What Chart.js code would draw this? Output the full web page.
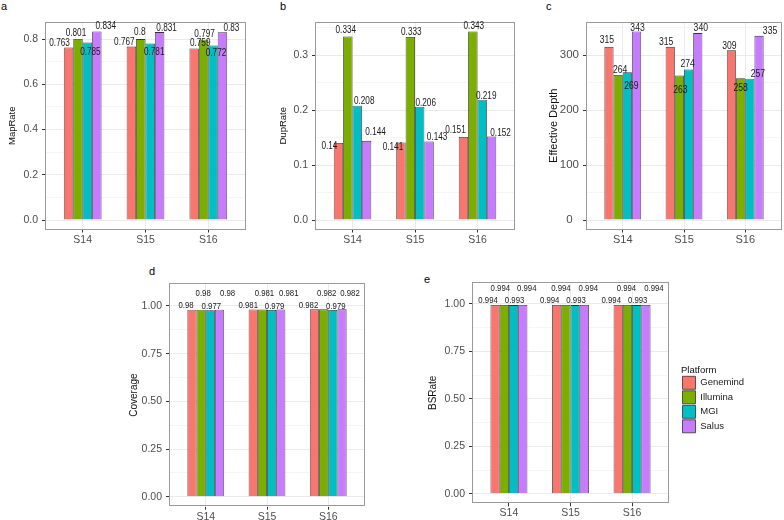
<!DOCTYPE html>
<html>
<head>
<meta charset="utf-8">
<script src="https://cdn.jsdelivr.net/npm/chart.js@4.4.0/dist/chart.umd.min.js"></script>
<style>
  body { margin: 0; background: #fff; width: 784px; height: 520px; position: relative; overflow: hidden; }
  canvas { position: absolute; }
  .tag { position: absolute; font: 11px 'Liberation Sans', Arial, sans-serif; color: #000; line-height: 1; }
</style>
</head>
<body>
<div class="tag" style="left:1px;top:1px">a</div>
<div class="tag" style="left:280px;top:1px">b</div>
<div class="tag" style="left:546px;top:1px">c</div>
<div class="tag" style="left:149px;top:266px">d</div>
<div class="tag" style="left:424px;top:274px">e</div>

<canvas id="panelA" width="243" height="250" style="left:7px;top:0px"></canvas>
<canvas id="panelB" width="240" height="250" style="left:278px;top:0px"></canvas>
<canvas id="panelC" width="237" height="250" style="left:547px;top:0px"></canvas>
<canvas id="panelD" width="242" height="265" style="left:128px;top:255px"></canvas>
<canvas id="panelE" width="357" height="265" style="left:427px;top:255px"></canvas>

<script>
// ------------------------------
// Data
// ------------------------------
const samples = ["S14", "S15", "S16"];
const platforms = ["Genemind", "Illumina", "MGI", "Salus"];
const platformColors = ["#F8766D", "#7CAE00", "#00BFC4", "#C77CFF"];

// rows = platform, columns = sample
const mapRate = [
  [0.763, 0.767, 0.759],
  [0.801, 0.8, 0.797],
  [0.785, 0.781, 0.772],
  [0.834, 0.831, 0.83]
];
const dupRate = [
  [0.14, 0.141, 0.151],
  [0.334, 0.333, 0.343],
  [0.208, 0.206, 0.219],
  [0.144, 0.143, 0.152]
];
const effDepth = [
  [315, 315, 309],
  [264, 263, 258],
  [269, 274, 257],
  [343, 340, 335]
];
const coverage = [
  [0.98, 0.981, 0.982],
  [0.98, 0.981, 0.982],
  [0.977, 0.979, 0.979],
  [0.98, 0.981, 0.982]
];
const bsRate = [
  [0.994, 0.994, 0.994],
  [0.994, 0.994, 0.994],
  [0.993, 0.993, 0.993],
  [0.994, 0.994, 0.994]
];

// y tick labels
const mapTicks = [0, 0.2, 0.4, 0.6, 0.8];
const dupTicks = [0, 0.1, 0.2, 0.3];
const depthTicks = [0, 100, 200, 300];
const fracTicks = [0, 0.25, 0.5, 0.75, 1];

// ------------------------------
// Label nudges (dx, dy in px from bar top centre), repel-like placement
// ------------------------------
const nudgeA = [
  [[-9, -4], [-7, -4], [6, -5]],
  [[-2, -6], [-1, -7], [1, -6]],
  [[3, 10], [4, 9], [3, 8]],
  [[9, -5], [7, -4], [9, -4]]
];
const nudgeB = [
  [[-9, 3], [-8, 5], [-8, -7]],
  [[-2, -6], [1, -5], [1, -5]],
  [[7, -4], [6, -4], [4, -3]],
  [[9, -9], [8, -4], [9, -3]]
];
const nudgeC = [
  [[-2, -7], [-4, -5], [-2, -4]],
  [[2, -5], [1, 15], [0, 10]],
  [[4, 14], [-1, -5], [8, -5]],
  [[1, -3], [3, -5], [11, -5]]
];
const nudgeD = [
  [[-6, -4], [-5, -4], [-6, -4]],
  [[2, -16], [2, -16], [3, -16]],
  [[1, -4], [3, -4], [3, -4]],
  [[8, -16], [8, -16], [8, -16]]
];
const nudgeE = [
  [[-7, -4.5], [-7, -4.5], [-7, -4.5]],
  [[-4, -16.5], [-5, -16.5], [-1, -16.5]],
  [[1, -4.5], [1, -4.5], [1, -4.5]],
  [[4, -16.5], [4, -16.5], [8, -16.5]]
];

const FONT = "'Liberation Sans', Arial, sans-serif";
Chart.defaults.font.family = FONT;
Chart.defaults.animation = false;

// ------------------------------
// Plugins
// ------------------------------
const panelFrame = {
  id: "panelFrame",
  beforeDatasetsDraw(chart) {
    const { ctx, chartArea: a } = chart;
    ctx.save();
    ctx.strokeStyle = "#9a9a9a";
    ctx.lineWidth = 1;
    ctx.strokeRect(Math.round(a.left) + 0.5, Math.round(a.top) + 0.5,
      Math.round(a.right - a.left) - 1, Math.round(a.bottom - a.top) - 1);
    ctx.restore();
  }
};

// value labels, squeezed horizontally to look like the narrow face of the original
const barValues = {
  id: "barValues",
  afterDatasetsDraw(chart, args, opts) {
    const ctx = chart.ctx;
    const sx = 0.82;
    ctx.save();
    ctx.font = `${opts.size}px ${FONT}`;
    ctx.fillStyle = "#1a1a1a";
    ctx.textAlign = "center";
    ctx.textBaseline = "middle";
    ctx.scale(sx, 1);
    chart.data.datasets.forEach((ds, i) => {
      chart.getDatasetMeta(i).data.forEach((bar, j) => {
        const [dx, dy] = opts.nudge[i][j];
        ctx.fillText(String(ds.data[j].y), (bar.x + dx) / sx, bar.y + dy);
      });
    });
    ctx.restore();
  }
};

// ------------------------------
// Panel builder
// ------------------------------
function makePanel(id, p) {
  const datasets = platforms.map((name, i) => ({
    label: name,
    data: samples.map((s, j) => ({ x: j + 1, y: p.values[i][j] })),
    backgroundColor: platformColors[i],
    borderColor: "#333333",
    borderWidth: 0.8,
    categoryPercentage: 0.6,
    barPercentage: 1.0
  }));

  const scales = {
    x: {
      type: "linear",
      min: 0.4,
      max: 3.6,
      offset: false,
      afterBuildTicks: s => { s.ticks = samples.map((c, j) => ({ value: j + 1 })); },
      afterFit: s => { s.height = p.xHeight; },
      grid: { offset: false, color: "#ebebeb", lineWidth: 1, tickLength: 3, tickColor: "#333333" },
      border: { display: false },
      ticks: {
        autoSkip: false, maxRotation: 0, padding: 1, color: "#4d4d4d",
        font: { size: p.xFont },
        callback: v => samples[Math.round(v) - 1]
      }
    },
    y: {
      type: "linear",
      min: p.yMin,
      max: p.yMax,
      afterBuildTicks: s => {
        const step = p.ticks[1] - p.ticks[0];
        const all = [];
        p.ticks.forEach(v => {
          all.push({ value: v, minor: false });
          if (v + step / 2 <= p.yMax) all.push({ value: v + step / 2, minor: true });
        });
        s.ticks = all;
      },
      afterFit: s => { s.width = p.yWidth; },
      grid: {
        color: c => (c.tick && c.tick.minor ? "#f5f5f5" : "#ebebeb"),
        tickColor: c => (c.tick && c.tick.minor ? "rgba(0,0,0,0)" : "#333333"),
        tickLength: 3
      },
      border: { display: false },
      title: { display: true, text: p.title, color: "#111", padding: 0, font: { size: p.titleFont } },
      ticks: {
        autoSkip: false, padding: 4, color: "#4d4d4d", crossAlign: p.crossAlign || "near",
        font: { size: p.tickFont },
        callback: (v, i, t) => (t[i].minor ? "" : p.fmt(v))
      }
    }
  };

  if (p.legend) {
    // spacer between the panel and the legend
    scales.gap = {
      type: "linear", position: "right", display: true,
      grid: { display: false }, border: { display: false },
      ticks: { display: false },
      afterFit: s => { s.width = 12; }
    };
  }

  return new Chart(document.getElementById(id), {
    type: "bar",
    data: { datasets },
    options: {
      responsive: false,
      devicePixelRatio: 1,
      layout: { padding: { left: 0, top: p.padTop, right: p.padRight, bottom: 0 } },
      scales,
      plugins: {
        tooltip: { enabled: false },
        legend: p.legend ? {
          display: true,
          position: "right",
          align: "center",
          maxWidth: 130,
          title: {
            display: true, text: "Platform", position: "start", color: "#111",
            padding: { top: -2.75, bottom: -1.85 }, font: { size: 9.5 }
          },
          labels: { boxWidth: 13, boxHeight: 13, padding: 1.5, color: "#1a1a1a", font: { size: 9.5 } }
        } : { display: false },
        barValues: { nudge: p.nudge, size: p.valueFont }
      }
    },
    plugins: [panelFrame, barValues]
  });
}

const fmt1 = v => v.toFixed(1);
const fmt2 = v => v.toFixed(2);
const fmt0 = v => String(Math.round(v));

makePanel("panelA", {
  values: mapRate, ticks: mapTicks, fmt: fmt1, title: "MapRate",
  yMin: -0.0417, yMax: 0.8757, yWidth: 38, xHeight: 20.5, padTop: 22, padRight: 4,
  xFont: 10.5, tickFont: 10.5, titleFont: 9.5, valueFont: 10, nudge: nudgeA
});
makePanel("panelB", {
  values: dupRate, ticks: dupTicks, fmt: fmt1, title: "DupRate",
  yMin: -0.01715, yMax: 0.36015, yWidth: 37, xHeight: 20.5, padTop: 22, padRight: 3,
  xFont: 10.5, tickFont: 10.5, titleFont: 9.5, valueFont: 10, nudge: nudgeB
});
makePanel("panelC", {
  values: effDepth, ticks: depthTicks, fmt: fmt0, title: "Effective Depth",
  yMin: -17.15, yMax: 360.15, yWidth: 39, xHeight: 20.5, padTop: 22, padRight: 2,
  xFont: 11, tickFont: 11.5, titleFont: 11, valueFont: 10.5, nudge: nudgeC, crossAlign: "center"
});
makePanel("panelD", {
  values: coverage, ticks: fracTicks, fmt: fmt2, title: "Coverage",
  yMin: -0.052, yMax: 1.118, yWidth: 41, xHeight: 13.3, padTop: 28.4, padRight: 5,
  xFont: 10.5, tickFont: 10.5, titleFont: 10, valueFont: 9.5, nudge: nudgeD
});
const chartE = makePanel("panelE", {
  values: bsRate, ticks: fracTicks, fmt: fmt2, title: "BSRate",
  yMin: -0.05, yMax: 1.113, yWidth: 45, xHeight: 16.7, padTop: 27.3, padRight: 20,
  xFont: 10.5, tickFont: 10.5, titleFont: 10, valueFont: 9.5, nudge: nudgeE, legend: true
});

// place the plot panel so its right edge lands at x=242 inside the canvas
chartE.options.layout.padding.right = Math.max(0, 357 - 242 - 12 - chartE.legend.width);
chartE.update();
</script>
</body>
</html>
